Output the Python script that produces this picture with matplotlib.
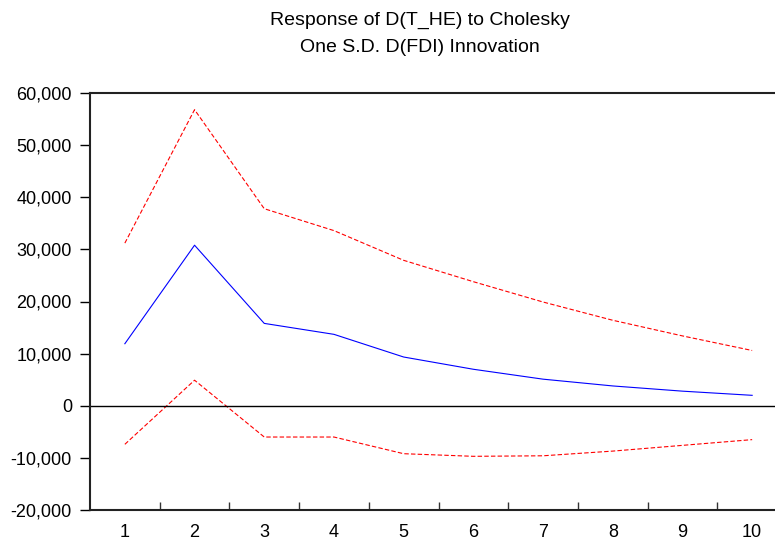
import matplotlib
matplotlib.use('Agg')
import matplotlib.pyplot as plt
from matplotlib.ticker import FuncFormatter

plt.rcParams['font.family'] = ['Liberation Sans', 'DejaVu Sans']

periods = [1, 2, 3, 4, 5, 6, 7, 8, 9, 10]
response = [11900, 30800, 15800, 13700, 9350, 7000, 5100, 3800, 2800, 2000]
upper = [31200, 56800, 37800, 33600, 27900, 23800, 19900, 16400, 13400, 10600]
lower = [-7400, 4900, -6000, -6000, -9200, -9700, -9600, -8700, -7600, -6500]

title1 = 'Response of D(T_HE) to Cholesky'
title2 = 'One S.D. D(FDI) Innovation'

fig = plt.figure(figsize=(7.75, 5.4), dpi=100)
ax = fig.add_axes([90/775, 1-510/540, 697/775, 417/540])

ax.plot(periods, response, color='#0000ff', lw=0.8)
ax.plot(periods, upper, color='#ff0000', lw=0.8, dashes=(4, 2))
ax.plot(periods, lower, color='#ff0000', lw=0.8, dashes=(4, 2))
ax.axhline(0, color='black', lw=1.0)

ax.set_xlim(0.5, 10.5)
ax.set_ylim(-20000, 60000)
ax.set_yticks(range(-20000, 60001, 10000))
ax.yaxis.set_major_formatter(FuncFormatter(lambda v, p: f'{int(v):,}'))

# category labels centred, ticks on the boundaries
ax.set_xticks(periods)
ax.set_xticklabels([str(p) for p in periods])
ax.tick_params(axis='x', which='major', length=0, pad=10, labelsize=13)
ax.set_xticks([p + 0.5 for p in periods[:-1]], minor=True)
ax.tick_params(axis='x', which='minor', direction='in', length=6, width=1, color='#333333')
ax.tick_params(axis='y', direction='out', length=7, width=1, pad=6, labelsize=13)

for s in ['left', 'bottom', 'top']:
    ax.spines[s].set_linewidth(1.5)
    ax.spines[s].set_color('#222222')
ax.spines['right'].set_visible(False)

fig.text(420/775, 1-20/540, title1, ha='center', va='center', fontsize=14)
fig.text(420/775, 1-47/540, title2, ha='center', va='center', fontsize=14)

fig.savefig('out.png', dpi=100)
